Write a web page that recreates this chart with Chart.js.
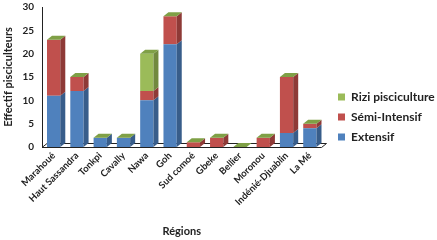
<!DOCTYPE html>
<html><head><meta charset="utf-8">
<script src="https://cdn.jsdelivr.net/npm/chart.js@4/dist/chart.umd.min.js"></script>
<style>html,body{margin:0;padding:0;background:#fff}#wrap{width:437px;height:240px}</style>
</head><body><div id="wrap"><canvas id="c" width="437" height="240"></canvas></div>
<script>
const categories = ["Marahoué","Haut Sassandra","Tonkpi","Cavally","Nawa","Goh","Sud comoé","Gbeke","Bellier","Moronou","Indénié-Djuablin","La Mé"];
const extensif     = [11,12,2,2,10,22,0,0,0,0,3,4];
const semiIntensif = [12,3,0,0,2,6,1,2,0,2,12,1];
const riziPisci    = [0,0,0,0,8,0,0,0,0,0,0,0];
const yTicks = [0,5,10,15,20,25,30];
const seriesNames = ["Extensif","Sémi-Intensif","Rizi pisciculture"];

const FRONT = ["#4F81BD","#C0504D","#9BBB59"];
const SIDE  = ["#385D8A","#8E3A37","#71893F"];
const CAP   = ["#6E96C8","#B9413E","#7FA046"];
const DX = 5, DY = -4;
const FONT = "Lato, 'Open Sans', sans-serif";
const LEG_PAD = 8;

const depthPlugin = {
  id: 'depth',
  beforeDatasetsDraw(chart) {
    const a = chart.chartArea, ctx = chart.ctx;
    ctx.save();
    ctx.strokeStyle = "#222"; ctx.lineWidth = 1;
    ctx.beginPath();
    ctx.moveTo(a.left, a.bottom + 0.5);
    ctx.lineTo(a.right, a.bottom + 0.5);
    ctx.lineTo(a.right + DX, a.bottom + DY + 0.5);
    ctx.lineTo(a.left + DX, a.bottom + DY + 0.5);
    ctx.closePath();
    ctx.stroke();
    ctx.restore();
  },
  afterDatasetsDraw(chart) {
    const ctx = chart.ctx;
    ctx.save();
    const n = chart.data.datasets.length;
    for (let i = 0; i < n; i++) {
      const meta = chart.getDatasetMeta(i);
      meta.data.forEach((el) => {
        const p = el.getProps(['x','y','base','width'], true);
        const l = p.x - p.width/2, r = p.x + p.width/2;
        const top = Math.min(p.y, p.base), bot = Math.max(p.y, p.base);
        if (bot - top > 0) {
          ctx.fillStyle = SIDE[i];
          ctx.beginPath();
          ctx.moveTo(r, top); ctx.lineTo(r + DX, top + DY);
          ctx.lineTo(r + DX, bot + DY); ctx.lineTo(r, bot);
          ctx.closePath(); ctx.fill();
        }
        if (i === n - 1) {
          ctx.fillStyle = CAP[i];
          ctx.beginPath();
          ctx.moveTo(l, top); ctx.lineTo(l + DX, top + DY);
          ctx.lineTo(r + DX, top + DY); ctx.lineTo(r, top);
          ctx.closePath(); ctx.fill();
        }
      });
    }
    ctx.restore();
  }
};

const legendShift = {
  id: 'legendShift',
  afterLayout(chart) {
    const L = chart.legend; if (!L) return;
    const dx = 338 - (L.left + LEG_PAD), dy = -3;
    L.left += dx; L.right += dx; L.top += dy; L.bottom += dy;
  }
};

new Chart(document.getElementById('c'), {
  type: 'bar',
  data: {labels: categories, datasets: [
      {label: seriesNames[0], data: extensif, backgroundColor: FRONT[0]},
      {label: seriesNames[1], data: semiIntensif, backgroundColor: FRONT[1]},
      {label: seriesNames[2], data: riziPisci, backgroundColor: FRONT[2]}]},
  options: {
    responsive: false, animation: false, devicePixelRatio: 1,
    layout: {padding: {left: 2, right: 9, top: 0, bottom: 0}},
    datasets: {bar: {barPercentage: 0.57, categoryPercentage: 1.0, borderWidth: 0}},
    plugins: {
      legend: {position: 'right', reverse: true,
        labels: {boxWidth: 7, boxHeight: 7, padding: LEG_PAD, color: '#222', font: {family: FONT, size: 12, weight: 'bold'}}},
      tooltip: {enabled: false}
    },
    scales: {
      x: {stacked: true, afterFit(s) { s.height = 93; }, grid: {display: false, drawTicks: false}, border: {display: false},
        ticks: {minRotation: 45, maxRotation: 45, autoSkip: false, padding: 3, color: '#222', font: {family: FONT, size: 9.5, weight: 'bold'}},
        title: {display: true, text: 'Régions', color: '#222', font: {family: FONT, size: 11, weight: 'bold'}, padding: {top: 0, bottom: 2}}},
      y: {stacked: true, min: 0, max: 30,
        afterFit(s) { s.width = 40; s.paddingTop = 7; },
        afterBuildTicks(s) { s.ticks = yTicks.map(v => ({value: v})); },
        grid: {display: false, drawTicks: true, tickLength: 3, color: '#222'}, border: {display: true, color: '#222'},
        ticks: {padding: 5, color: '#222', font: {family: FONT, size: 10, weight: 'bold'}},
        title: {display: true, text: 'Effectif pisciculteurs', color: '#222', font: {family: FONT, size: 11, weight: 'bold'}, padding: {top: 0, bottom: 2}}}
    }
  },
  plugins: [depthPlugin, legendShift]
});
</script></body></html>
